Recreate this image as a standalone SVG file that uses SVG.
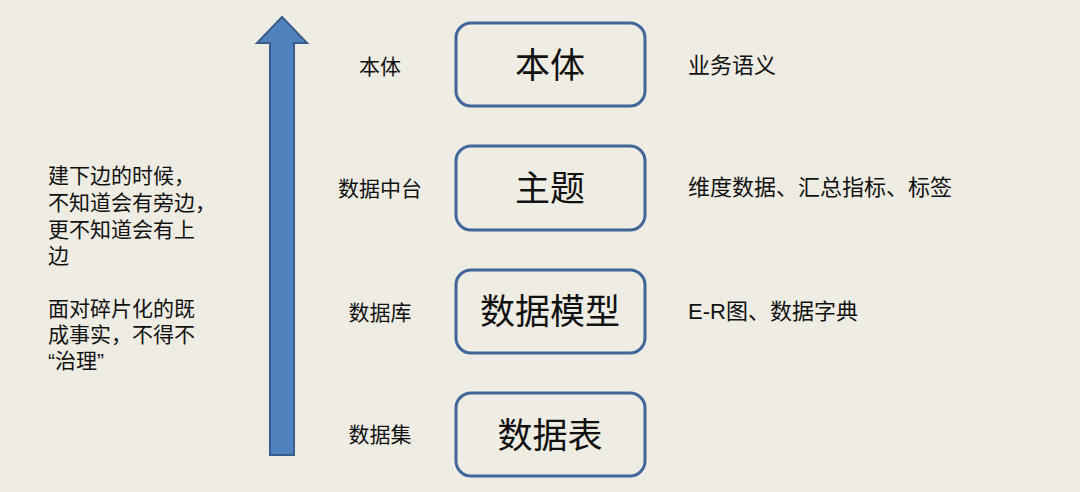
<svg xmlns="http://www.w3.org/2000/svg" width="1080" height="492" viewBox="0 0 1080 492">
<style>
text{font-family:"Liberation Sans","Noto Sans CJK SC",sans-serif;fill:#111;}
.box{fill:none;stroke:#41679A;stroke-width:3;}
.big{font-size:35px;text-anchor:middle;dominant-baseline:central;}
.lbl{font-size:21px;text-anchor:middle;dominant-baseline:central;}
.rt{font-size:22px;dominant-baseline:central;}
.lt{font-size:21px;}
</style>
<rect width="1080" height="492" fill="#EEECE3"/>
<g id="connectors">
<path d="M270,455 L294,455 L294,43 L307,43 L282,17 L257,43 L270,43 Z" fill="#4F81BD" stroke="#385D8A" stroke-width="2" stroke-linejoin="miter"/>
</g>
<g id="node-bentiti">
<rect class="box" x="456" y="23" width="189" height="83" rx="15"/>
<text class="big" x="550" y="65">本体</text>
</g>
<g id="node-zhuti">
<rect class="box" x="456" y="146" width="189" height="84" rx="15"/>
<text class="big" x="550" y="188">主题</text>
</g>
<g id="node-moxing">
<rect class="box" x="456" y="270" width="189" height="83" rx="15"/>
<text class="big" x="550" y="311">数据模型</text>
</g>
<g id="node-biao">
<rect class="box" x="456" y="393" width="189" height="83" rx="15"/>
<text class="big" x="550" y="435">数据表</text>
</g>
<g id="labels-left">
<text class="lbl" x="380" y="66">本体</text>
<text class="lbl" x="380" y="188">数据中台</text>
<text class="lbl" x="380" y="312">数据库</text>
<text class="lbl" x="380" y="434">数据集</text>
</g>
<g id="labels-right">
<text class="rt" x="688" y="65">业务语义</text>
<text class="rt" x="688" y="187">维度数据、汇总指标、标签</text>
<text class="rt" x="688" y="311">E-R图、数据字典</text>
</g>
<g id="note">
<text class="lt" x="48" y="183">建下边的时候，</text>
<text class="lt" x="48" y="210">不知道会有旁边，</text>
<text class="lt" x="48" y="237">更不知道会有上</text>
<text class="lt" x="48" y="263">边</text>
<text class="lt" x="48" y="316">面对碎片化的既</text>
<text class="lt" x="48" y="342">成事实，不得不</text>
<text class="lt" x="48" y="368">“治理”</text>
</g>
</svg>
